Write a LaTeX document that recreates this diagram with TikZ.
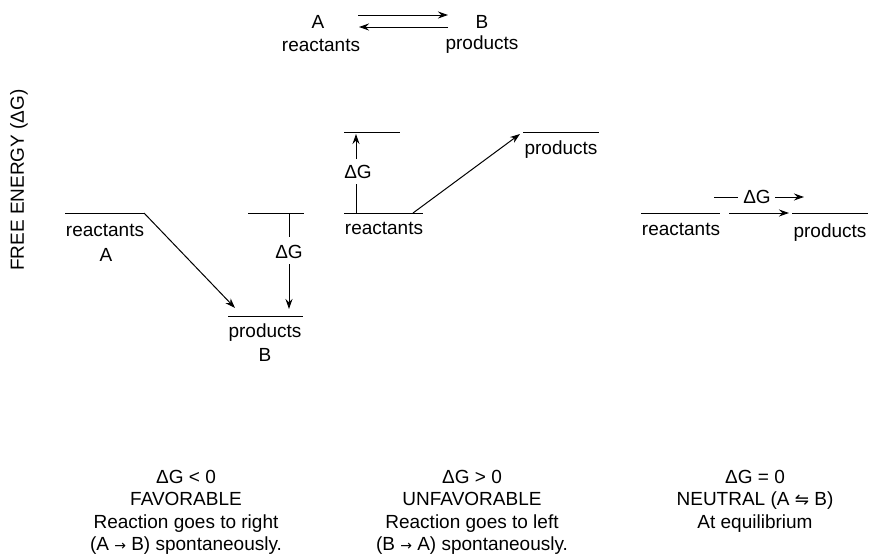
\documentclass[tikz,border=0pt]{standalone}
\usepackage{fontspec}
\setmainfont{Liberation Sans}
\newfontfamily\dvfont{DejaVu Sans}
\usetikzlibrary{arrows.meta}
\newcommand{\smarr}{{\fontsize{14}{14}\selectfont\dvfont →}}
\newcommand{\eqharp}{{\fontsize{17}{17}\selectfont\dvfont ⇋}}
\begin{document}
\begin{tikzpicture}[x=1pt,y=-1pt,
  every node/.style={font=\fontsize{19}{22}\selectfont, inner sep=0pt},
  lvl/.style={line width=1pt},
  arr/.style={line width=1pt,-{Stealth[length=10pt,width=7pt]}},
  bot/.style={anchor=base}]
\useasboundingbox (0,0) rectangle (876,554);

% top equation
\node (A) at (318,22) {A};
\node (reac) at (321,45) {reactants};
\node (B) at (482,22) {B};
\node (prod) at (482,45) {products};
\coordinate (t1) at (358,15); \coordinate (t2) at (448,15);
\coordinate (b1) at (448,27); \coordinate (b2) at (359,27);
\draw[arr] (t1) -- (t2);
\draw[arr] (b1) -- (b2);

% axis label
\node[rotate=90] (ylab) at (19,180) {FREE ENERGY (ΔG)};

% panel 1
\coordinate (r1a) at (65,213); \coordinate (r1b) at (144,213);
\draw[lvl] (r1a) -- (r1b);
\node (r1t) at (105,230) {reactants};
\node (r1A) at (106,255) {A};
\coordinate (p1a) at (228,316); \coordinate (p1b) at (303,316);
\draw[lvl] (p1a) -- (p1b);
\node (p1t) at (265,333) {products};
\node (p1B) at (265,355) {B};
\coordinate (p1tip) at (235,308);
\draw[arr] (r1b) -- (p1tip);
\coordinate (u1a) at (248,213); \coordinate (u1b) at (304,213);
\draw[lvl] (u1a) -- (u1b);
\node (dg1) at (289,252) {ΔG};
\coordinate (d1s) at (289,213); \coordinate (d1e) at (289,237);
\coordinate (d1f) at (289,264); \coordinate (d1tip) at (289,309);
\draw[lvl] (d1s) -- (d1e);
\draw[arr] (d1f) -- (d1tip);

% panel 2
\coordinate (u2a) at (344,132); \coordinate (u2b) at (400,132);
\draw[lvl] (u2a) -- (u2b);
\coordinate (r2a) at (344,213); \coordinate (r2b) at (423,213);
\draw[lvl] (r2a) -- (r2b);
\node (r2t) at (384,228) {reactants};
\node (dg2) at (358,172) {ΔG};
\coordinate (d2s) at (356,213); \coordinate (d2e) at (356,184);
\coordinate (d2f) at (356,159); \coordinate (d2tip) at (356,134);
\draw[lvl] (d2s) -- (d2e);
\draw[arr] (d2f) -- (d2tip);
\coordinate (g2s) at (413,213); \coordinate (g2tip) at (520,134);
\draw[arr] (g2s) -- (g2tip);
\coordinate (p2a) at (523,132); \coordinate (p2b) at (599,132);
\draw[lvl] (p2a) -- (p2b);
\node (p2t) at (561,150) {products};

% panel 3
\coordinate (r3a) at (641,213); \coordinate (r3b) at (720,213);
\draw[lvl] (r3a) -- (r3b);
\node (r3t) at (681,229) {reactants};
\coordinate (h3s) at (729,213); \coordinate (h3tip) at (789,213);
\draw[arr] (h3s) -- (h3tip);
\coordinate (p3a) at (792,213); \coordinate (p3b) at (868,213);
\draw[lvl] (p3a) -- (p3b);
\node (p3t) at (830,233) {products};
\node (dg3) at (757,197) {ΔG};
\coordinate (e3a) at (714,197); \coordinate (e3b) at (738,197);
\coordinate (e3c) at (775,197); \coordinate (e3tip) at (804,197);
\draw[lvl] (e3a) -- (e3b);
\draw[arr] (e3c) -- (e3tip);

% bottom captions
\node[bot] (c1a) at (186,483) {ΔG < 0};
\node[bot] (c1b) at (186,505.5) {FAVORABLE};
\node[bot] (c1c) at (186,528) {Reaction goes to right};
\node[bot] (c1d) at (186,550) {(A \smarr\ B) spontaneously.};
\node[bot] (c2a) at (472,483) {ΔG > 0};
\node[bot] (c2b) at (472,505.5) {UNFAVORABLE};
\node[bot] (c2c) at (472,528) {Reaction goes to left};
\node[bot] (c2d) at (472,550) {(B \smarr\ A) spontaneously.};
\node[bot] (c3a) at (755,483) {ΔG = 0};
\node[bot] (c3b) at (755,505.5) {NEUTRAL (A \eqharp\ B)};
\node[bot] (c3c) at (755,528) {At equilibrium};
\end{tikzpicture}
\end{document}
